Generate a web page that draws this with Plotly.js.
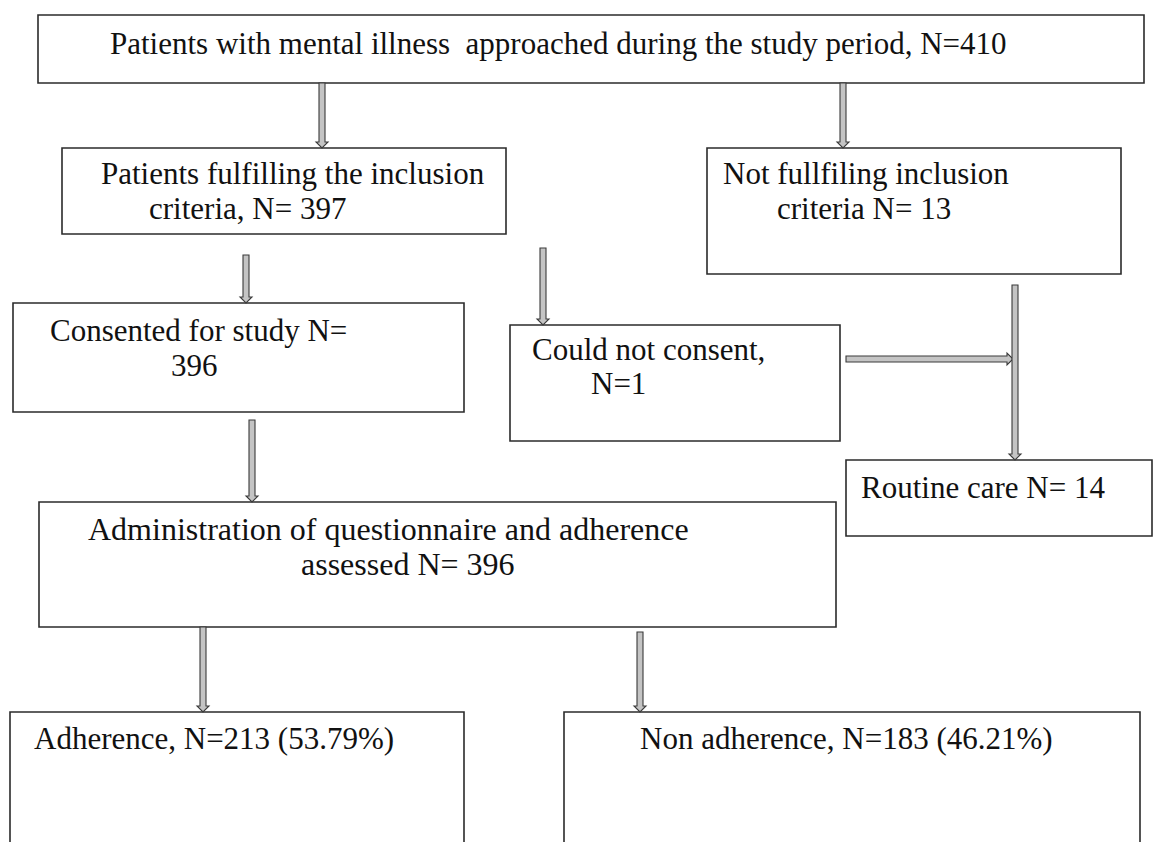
<!DOCTYPE html>
<html>
<head>
<meta charset="utf-8">
<script src="https://cdn.plot.ly/plotly-3.0.1.min.js"></script>
<style>html,body{margin:0;padding:0;background:#fff;}#chart{width:1174px;height:842px;}</style>
</head>
<body>
<div id="chart"></div>
<script>
// ---- data: flow steps and counts ----
const stepNames = ["approached", "included", "excluded", "consented", "noConsent", "routineCare", "assessed", "adherence", "nonAdherence"];
const stepCounts = [410, 397, 13, 396, 1, 14, 396, 213, 183];
const stepLines = [
  ["Patients with mental illness  approached during the study period, N=410"],
  ["Patients fulfilling the inclusion", "criteria, N= 397"],
  ["Not fullfiling inclusion", "criteria N= 13"],
  ["Consented for study N=", "396"],
  ["Could not consent,", "N=1"],
  ["Routine care N= 14"],
  ["Administration of questionnaire and adherence", "assessed N= 396"],
  ["Adherence, N=213 (53.79%)"],
  ["Non adherence, N=183 (46.21%)"]
];
const outcomePercent = [53.79, 46.21];

// ---- layout geometry (pixels, y downward) ----
const boxGeom = [ // x0, x1, y0, y1
  [38, 1144, 15, 83],
  [62, 506, 148, 234],
  [707, 1121, 148, 274],
  [13, 464, 303, 412],
  [510, 840, 325, 441],
  [846, 1152, 460, 536],
  [39, 836, 502, 627],
  [10, 464, 712, 860],
  [564, 1140, 712, 860]
];
const lineGeom = [ // per box: [[x, y], ...] for each line (left anchor, middle)
  [[108, 43]],
  [[99, 173], [147, 208]],
  [[721, 173], [775, 208]],
  [[48, 330], [169, 365]],
  [[530, 349], [589, 383]],
  [[859, 487]],
  [[86, 529], [299, 564]],
  [[32, 738]],
  [[638, 738]]
];
const lineSize = [31, 31, 31, 31, 31, 31, 32, 31, 31];
const arrowGeom = [ // x0,y0 -> x1,y1
  [322, 83, 322, 148],
  [843, 83, 843, 148],
  [246, 255, 246, 303],
  [543, 248, 543, 325],
  [846, 359, 1013, 359],
  [1015, 285, 1015, 460],
  [252, 420, 252, 502],
  [203, 627, 203, 712],
  [640, 632, 640, 712]
];

function arrowPath(x0, y0, x1, y1) {
  const hw = 3, hh = 6, hl = 6;
  if (x0 === x1) {
    const d = y1 > y0 ? 1 : -1, x = x0;
    const yb = y1 - d * hl;
    return `M${x-hw},${y0} L${x+hw},${y0} L${x+hw},${yb} L${x+hh},${yb} L${x},${y1} L${x-hh},${yb} L${x-hw},${yb} Z`;
  } else {
    const d = x1 > x0 ? 1 : -1, y = y0;
    const xb = x1 - d * hl;
    return `M${x0},${y-hw} L${x0},${y+hw} L${xb},${y+hw} L${xb},${y+hh} L${x1},${y} L${xb},${y-hh} L${xb},${y-hw} Z`;
  }
}

const shapes = [];
boxGeom.forEach(b => shapes.push({
  type: 'rect', xref: 'x', yref: 'y', x0: b[0], x1: b[1], y0: b[2], y1: b[3],
  line: {color: '#2b2b2b', width: 1.6}, fillcolor: 'rgba(0,0,0,0)'
}));
arrowGeom.forEach(a => shapes.push({
  type: 'path', xref: 'x', yref: 'y', path: arrowPath(a[0], a[1], a[2], a[3]),
  line: {color: '#3a3a3a', width: 1.1}, fillcolor: '#c4c4c4'
}));

const annotations = [];
stepLines.forEach((lines, i) => {
  lines.forEach((t, j) => {
    const g = lineGeom[i][j];
    annotations.push({
      xref: 'x', yref: 'y', x: g[0], y: g[1], text: t, showarrow: false,
      xanchor: 'left', yanchor: 'middle',
      font: {family: 'Liberation Serif, Tinos, Times New Roman, serif', size: lineSize[i], color: '#111'}
    });
  });
});

const trace = {x: [0, 1174], y: [0, 842], mode: 'markers', marker: {opacity: 0}, hoverinfo: 'skip', showlegend: false};

const layout = {
  width: 1174, height: 842,
  margin: {l: 0, r: 0, t: 0, b: 0},
  paper_bgcolor: '#fff', plot_bgcolor: '#fff',
  xaxis: {range: [0, 1174], visible: false, fixedrange: true},
  yaxis: {range: [842, 0], visible: false, fixedrange: true},
  shapes: shapes, annotations: annotations, showlegend: false
};

Plotly.newPlot('chart', [trace], layout, {displayModeBar: false, staticPlot: true});
</script>
</body>
</html>
